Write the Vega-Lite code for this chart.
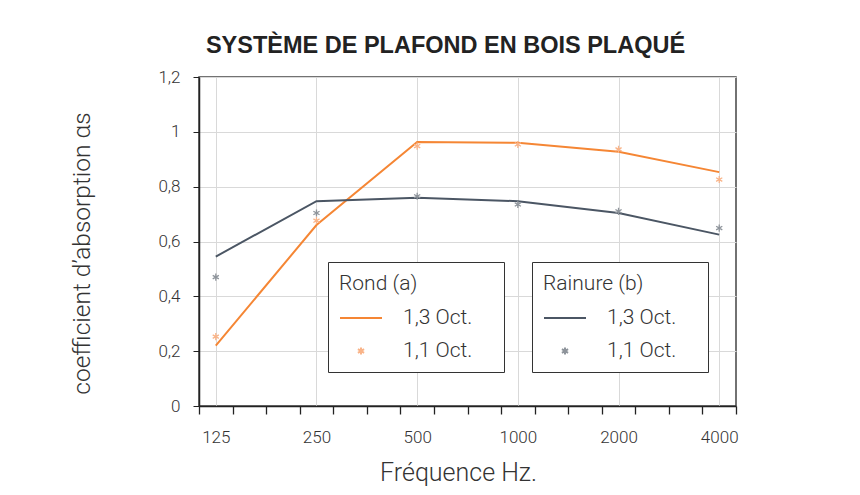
{
  "$schema": "https://vega.github.io/schema/vega-lite/v6.json",
  "width": 537,
  "height": 329,
  "autosize": {"type": "none"},
  "padding": {"left": 199, "top": 77, "right": 124, "bottom": 89},
  "background": "white",
  "title": {
    "text": "SYSTÈME DE PLAFOND EN BOIS PLAQUÉ",
    "font": "Liberation Sans",
    "fontSize": 23.5,
    "fontWeight": "bold",
    "color": "#222222",
    "anchor": "middle",
    "frame": "group",
    "dx": -22,
    "baseline": "alphabetic",
    "offset": -8
  },
  "data": {
    "values": [
      {"freq": 125, "materiau": "Rond (a)", "mesure": "1,3 Oct.", "alpha": 0.22},
      {"freq": 250, "materiau": "Rond (a)", "mesure": "1,3 Oct.", "alpha": 0.66},
      {"freq": 500, "materiau": "Rond (a)", "mesure": "1,3 Oct.", "alpha": 0.963},
      {"freq": 1000, "materiau": "Rond (a)", "mesure": "1,3 Oct.", "alpha": 0.96},
      {"freq": 2000, "materiau": "Rond (a)", "mesure": "1,3 Oct.", "alpha": 0.927},
      {"freq": 4000, "materiau": "Rond (a)", "mesure": "1,3 Oct.", "alpha": 0.853},
      {"freq": 125, "materiau": "Rond (a)", "mesure": "1,1 Oct.", "alpha": 0.253},
      {"freq": 250, "materiau": "Rond (a)", "mesure": "1,1 Oct.", "alpha": 0.676},
      {"freq": 500, "materiau": "Rond (a)", "mesure": "1,1 Oct.", "alpha": 0.948},
      {"freq": 1000, "materiau": "Rond (a)", "mesure": "1,1 Oct.", "alpha": 0.954},
      {"freq": 2000, "materiau": "Rond (a)", "mesure": "1,1 Oct.", "alpha": 0.936},
      {"freq": 4000, "materiau": "Rond (a)", "mesure": "1,1 Oct.", "alpha": 0.826},
      {"freq": 125, "materiau": "Rainure (b)", "mesure": "1,3 Oct.", "alpha": 0.545},
      {"freq": 250, "materiau": "Rainure (b)", "mesure": "1,3 Oct.", "alpha": 0.747},
      {"freq": 500, "materiau": "Rainure (b)", "mesure": "1,3 Oct.", "alpha": 0.76},
      {"freq": 1000, "materiau": "Rainure (b)", "mesure": "1,3 Oct.", "alpha": 0.747},
      {"freq": 2000, "materiau": "Rainure (b)", "mesure": "1,3 Oct.", "alpha": 0.704},
      {"freq": 4000, "materiau": "Rainure (b)", "mesure": "1,3 Oct.", "alpha": 0.625},
      {"freq": 125, "materiau": "Rainure (b)", "mesure": "1,1 Oct.", "alpha": 0.47},
      {"freq": 250, "materiau": "Rainure (b)", "mesure": "1,1 Oct.", "alpha": 0.704},
      {"freq": 500, "materiau": "Rainure (b)", "mesure": "1,1 Oct.", "alpha": 0.765},
      {"freq": 1000, "materiau": "Rainure (b)", "mesure": "1,1 Oct.", "alpha": 0.735},
      {"freq": 2000, "materiau": "Rainure (b)", "mesure": "1,1 Oct.", "alpha": 0.71},
      {"freq": 4000, "materiau": "Rainure (b)", "mesure": "1,1 Oct.", "alpha": 0.649}
    ]
  },
  "layer": [
    {
      "transform": [{"filter": "datum.materiau === 'Rond (a)' && datum.mesure === '1,3 Oct.'"}],
      "mark": {"type": "line", "color": "#F58634", "strokeWidth": 2},
      "encoding": {
        "x": {
          "field": "freq", "type": "quantitative",
          "scale": {"type": "log", "domain": [111.36, 4489.85], "nice": false},
          "axis": {
            "orient": "bottom",
            "values": [125, 250, 500, 1000, 2000, 4000],
            "format": "d",
            "ticks": false,
            "tickSize": 0,
            "domain": false,
            "grid": true,
            "gridColor": "#d9d9d9",
            "labelPadding": 23,
            "labelFontSize": 17,
            "labelFontWeight": 300,
            "labelColor": "#333333",
            "title": "Fréquence Hz.",
            "titleFontSize": 25,
            "titleFontWeight": 300,
            "titleColor": "#333333",
            "titleX": 259,
            "titleY": 74,
            "titleBaseline": "alphabetic",
            "titleAlign": "center"
          }
        },
        "y": {
          "field": "alpha", "type": "quantitative",
          "scale": {"domain": [0, 1.2], "nice": false, "zero": false},
          "axis": {
            "values": [0, 0.2, 0.4, 0.6, 0.8, 1, 1.2],
            "labelExpr": "replace(format(datum.value, '.1~f'), '.', ',')",
            "tickSize": 6,
            "tickColor": "#222222",
            "domainColor": "#222222",
            "domainWidth": 1.5,
            "labelPadding": 13,
            "labelFontSize": 17,
            "labelFontWeight": 300,
            "labelColor": "#333333",
            "grid": true,
            "gridColor": "#d9d9d9",
            "title": "coefficient d’absorption αs",
            "titleFontSize": 24.5,
            "titleFontWeight": 300,
            "titleColor": "#333333",
            "titleX": -110,
            "titleY": 176,
            "titleAngle": -90,
            "titleBaseline": "alphabetic",
            "titleAlign": "center"
          }
        }
      }
    },
    {
      "transform": [{"filter": "datum.materiau === 'Rainure (b)' && datum.mesure === '1,3 Oct.'"}],
      "mark": {"type": "line", "color": "#4B5664", "strokeWidth": 2},
      "encoding": {
        "x": {"field": "freq", "type": "quantitative", "scale": {"type": "log", "domain": [111.36, 4489.85], "nice": false}, "axis": null},
        "y": {"field": "alpha", "type": "quantitative", "scale": {"domain": [0, 1.2], "nice": false, "zero": false}}
      }
    },
    {
      "transform": [{"filter": "datum.materiau === 'Rond (a)' && datum.mesure === '1,1 Oct.'"}],
      "mark": {"type": "point", "filled": false, "size": 1764, "strokeWidth": 1.3, "opacity": 1},
      "encoding": {
        "x": {
          "field": "freq", "type": "quantitative",
          "scale": {"type": "log", "domain": [111.36, 4489.85], "nice": false},
          "axis": {
            "orient": "bottom",
            "values": [111.36, 140.31, 176.78, 222.72, 280.62, 353.55, 445.45, 561.23, 707.11, 890.90, 1122.46, 1414.21, 1781.80, 2244.92, 2828.43, 3563.59, 4489.85],
            "labels": false,
            "ticks": true,
            "tickSize": 8,
            "tickColor": "#222222",
            "tickWidth": 1.3,
            "domain": true,
            "domainColor": "#222222",
            "domainWidth": 1.5,
            "grid": false,
            "title": null
          }
        },
        "y": {"field": "alpha", "type": "quantitative", "scale": {"domain": [0, 1.2], "nice": false, "zero": false}},
        "color": {
          "field": "mesure", "type": "nominal",
          "scale": {"domain": ["1,3 Oct.", "1,1 Oct."], "range": ["#F58634", "#F9B489"]},
          "legend": {
            "title": "Rond (a)",
            "orient": "none", "legendX": 129, "legendY": 185,
            "symbolSize": 1764, "clipHeight": 20, "rowPadding": 12, "titlePadding": 14,
            "padding": 11, "strokeColor": "#333333", "fillColor": "white",
            "labelOffset": 20, "labelFontSize": 21, "labelFontWeight": 300, "labelColor": "#333333",
            "titleFontSize": 21, "titleFontWeight": 300, "titleColor": "#333333",
            "symbolStrokeWidth": 2,
            "labelExpr": "datum.label + '\u00a0\u00a0\u00a0\u00a0\u200b'"
          }
        },
        "shape": {
          "field": "mesure", "type": "nominal",
          "scale": {"domain": ["1,3 Oct.", "1,1 Oct."], "range": ["stroke", "M0,-0.17L0,0.17M-0.147,-0.085L0.147,0.085M-0.147,0.085L0.147,-0.085"]},
          "legend": {
            "title": "Rond (a)",
            "orient": "none", "legendX": 129, "legendY": 185,
            "symbolSize": 1764, "clipHeight": 20, "rowPadding": 12, "titlePadding": 14,
            "padding": 11, "strokeColor": "#333333", "fillColor": "white",
            "labelOffset": 20, "labelFontSize": 21, "labelFontWeight": 300, "labelColor": "#333333",
            "titleFontSize": 21, "titleFontWeight": 300, "titleColor": "#333333",
            "symbolStrokeWidth": 2,
            "labelExpr": "datum.label + '\u00a0\u00a0\u00a0\u00a0\u200b'"
          }
        }
      }
    },
    {
      "transform": [{"filter": "datum.materiau === 'Rainure (b)' && datum.mesure === '1,1 Oct.'"}],
      "mark": {"type": "point", "filled": false, "size": 1764, "strokeWidth": 1.3, "opacity": 1},
      "encoding": {
        "x": {"field": "freq", "type": "quantitative", "scale": {"type": "log", "domain": [111.36, 4489.85], "nice": false}, "axis": null},
        "y": {"field": "alpha", "type": "quantitative", "scale": {"domain": [0, 1.2], "nice": false, "zero": false}},
        "color": {
          "field": "mesure", "type": "nominal",
          "scale": {"domain": ["1,3 Oct.", "1,1 Oct."], "range": ["#4B5664", "#8E949B"]},
          "legend": {
            "title": "Rainure (b)",
            "orient": "none", "legendX": 333, "legendY": 185,
            "symbolSize": 1764, "clipHeight": 20, "rowPadding": 12, "titlePadding": 14,
            "padding": 11, "strokeColor": "#333333", "fillColor": "white",
            "labelOffset": 20, "labelFontSize": 21, "labelFontWeight": 300, "labelColor": "#333333",
            "titleFontSize": 21, "titleFontWeight": 300, "titleColor": "#333333",
            "symbolStrokeWidth": 2,
            "labelExpr": "datum.label + '\u00a0\u00a0\u00a0\u00a0\u200b'"
          }
        },
        "shape": {
          "field": "mesure", "type": "nominal",
          "scale": {"domain": ["1,3 Oct.", "1,1 Oct."], "range": ["stroke", "M0,-0.17L0,0.17M-0.147,-0.085L0.147,0.085M-0.147,0.085L0.147,-0.085"]},
          "legend": {
            "title": "Rainure (b)",
            "orient": "none", "legendX": 333, "legendY": 185,
            "symbolSize": 1764, "clipHeight": 20, "rowPadding": 12, "titlePadding": 14,
            "padding": 11, "strokeColor": "#333333", "fillColor": "white",
            "labelOffset": 20, "labelFontSize": 21, "labelFontWeight": 300, "labelColor": "#333333",
            "titleFontSize": 21, "titleFontWeight": 300, "titleColor": "#333333",
            "symbolStrokeWidth": 2,
            "labelExpr": "datum.label + '\u00a0\u00a0\u00a0\u00a0\u200b'"
          }
        }
      }
    }
  ],
  "resolve": {
    "scale": {"color": "independent", "shape": "independent"},
    "axis": {"x": "independent"}
  },
  "config": {
    "font": "Roboto",
    "view": {"stroke": "#444444", "strokeWidth": 1.5}
  }
}
